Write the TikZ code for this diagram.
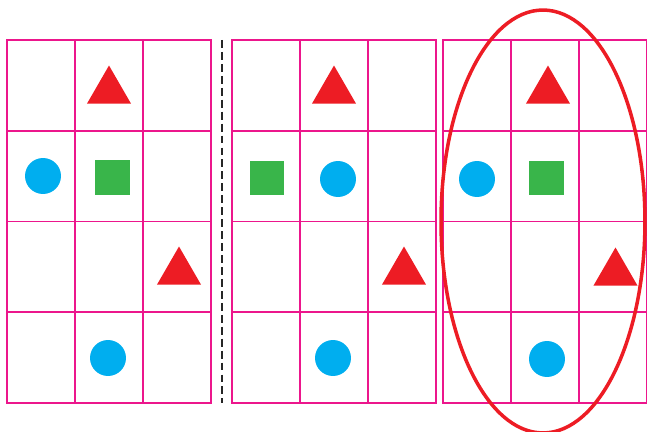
\documentclass[tikz,border=0pt]{standalone}
\usepackage{xcolor}
\usepackage{tikz}
\usetikzlibrary{shapes.geometric}

\definecolor{gridpink}{RGB}{236,22,140}
\definecolor{shapered}{RGB}{237,28,36}
\definecolor{dotblue}{RGB}{0,174,239}
\definecolor{sqgreen}{RGB}{57,181,74}

\begin{document}
\begin{tikzpicture}[
        x=0.02cm, y=-0.02cm,
        cell/.style={draw=gridpink, line width=1.1pt},
        tri/.style={regular polygon, regular polygon sides=3, fill=shapered, minimum size=1.02cm, inner sep=0pt},
        dot/.style={circle, fill=dotblue, minimum size=0.72cm, inner sep=0pt},
        sq/.style={rectangle, fill=sqgreen, minimum size=0.7cm, inner sep=0pt},
        divider/.style={black!85, line width=1.4pt, dash pattern=on 4.5pt off 2.3pt},
        ring/.style={ellipse, draw=shapered, line width=2pt, minimum width=4.08cm, minimum height=8.46cm, inner sep=0pt}
    ]
    \useasboundingbox (0,0) rectangle (647,432);

    % Grids
    \foreach \gx in {7,232,443} {
        \foreach \i in {0,1,2} {
            \foreach \j in {0,1,2,3} {
                \draw[cell] (\gx+\i*68, 40+\j*90.75) rectangle ++(68,90.75);
            }
        }
    }

    % First grid
    \node[tri] (triA1) at (109,91) {};
    \node[dot] (dotA1) at (43,176) {};
    \node[sq] (sqA) at (112.5,177.5) {};
    \node[tri] (triA2) at (179,272) {};
    \node[dot] (dotA2) at (108,358) {};

    % Second grid
    \node[tri] (triB1) at (334,91) {};
    \node[sq] (sqB) at (267,178) {};
    \node[dot] (dotB1) at (338,179) {};
    \node[tri] (triB2) at (404,272) {};
    \node[dot] (dotB2) at (333,358) {};

    % Third grid
    \node[tri] (triC1) at (548,91) {};
    \node[dot] (dotC1) at (477,179) {};
    \node[sq] (sqC) at (546.5,178) {};
    \node[tri] (triC2) at (615.5,273) {};
    \node[dot] (dotC2) at (547,359) {};

    % Divider
    \coordinate (divtop) at (222,40);
    \coordinate (divbot) at (222,403);
    \draw[divider] (divtop) -- (divbot);

    % Ellipse round the third grid
    \node[ring] (ring) at (543,221.5) {};

\end{tikzpicture}
\end{document}
